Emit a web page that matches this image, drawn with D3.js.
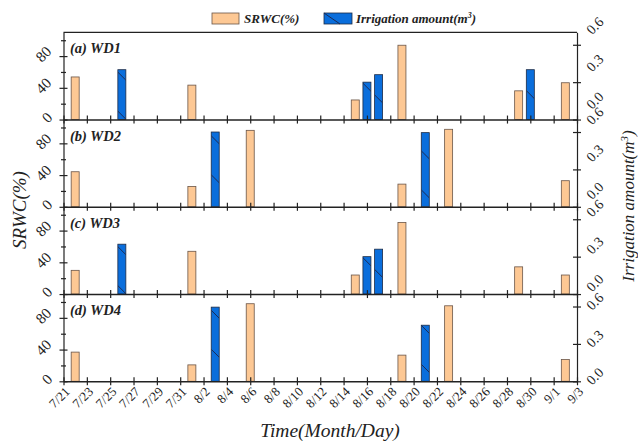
<!DOCTYPE html>
<html>
<head>
<meta charset="utf-8">
<script src="https://cdn.jsdelivr.net/npm/d3@7"></script>
<style>
  body { margin: 0; background: #fff; }
  svg text { font-family: "Liberation Serif", "Times New Roman", serif; fill: #222; }
</style>
</head>
<body>
<div id="chart"></div>
<script>
// ---- data ----
const panelNames = ["(a) WD1", "(b) WD2", "(c) WD3", "(d) WD4"];

const srwcDates = [
  ["7/22", "8/1", "8/15", "8/19", "8/29", "9/2"],
  ["7/22", "8/1", "8/6", "8/19", "8/23", "9/2"],
  ["7/22", "8/1", "8/15", "8/19", "8/29", "9/2"],
  ["7/22", "8/1", "8/6", "8/19", "8/23", "9/2"]
];
const srwcValues = [
  [53.7, 43.4, 24.7, 93.7, 36.2, 46.4],
  [44.2, 25.7, 96.4, 28.6, 97.7, 32.9],
  [29.9, 53.9, 24.0, 90.3, 34.3, 24.0],
  [36.8, 20.7, 97.8, 33.0, 95.2, 27.4]
];

const irrDates = [
  ["7/26", "8/16", "8/17", "8/30"],
  ["8/3", "8/21"],
  ["7/26", "8/16", "8/17"],
  ["8/3", "8/21"]
];
const irrValues = [
  [0.40, 0.30, 0.36, 0.40],
  [0.60, 0.595],
  [0.40, 0.30, 0.36],
  [0.595, 0.45]
];

const xTickLabels = ["7/21", "7/23", "7/25", "7/27", "7/29", "7/31", "8/2", "8/4", "8/6",
  "8/8", "8/10", "8/12", "8/14", "8/16", "8/18", "8/20", "8/22", "8/24", "8/26", "8/28",
  "8/30", "9/1", "9/3"];
const leftTicks = [0, 20, 40, 60, 80, 100];
const leftLabels = [0, 40, 80];
const rightTicks = [0, 0.3, 0.6];

// ---- layout ----
const W = 638, H = 443;
const plotL = 63.5, plotR = 577, plotT = 32.3, panelH = 87.25;
const barW = 8;
const orange = "#FDC894", blue = "#0A6EDC";

const parseDay = s => d3.utcParse("%Y/%m/%d")("2019/" + s);

const x = d3.scaleUtc()
  .domain([parseDay("7/21"), parseDay("9/3")])
  .range([plotL, plotR]);

const yL = d3.scaleLinear().domain([0, 110]).range([panelH, 0]);
const yR = d3.scaleLinear().domain([0, 0.7]).range([panelH, 0]);

const svg = d3.select("#chart").append("svg")
  .attr("width", W)
  .attr("height", H);

// hatch for irrigation bars
const defs = svg.append("defs");
const pat = defs.append("pattern")
  .attr("id", "hatch")
  .attr("patternUnits", "userSpaceOnUse")
  .attr("width", 39).attr("height", 39);
pat.append("rect").attr("width", 39).attr("height", 39).attr("fill", blue);
pat.append("line")
  .attr("x1", 0).attr("y1", 0).attr("x2", 39).attr("y2", 39)
  .attr("stroke", "#1b2a55").attr("stroke-width", 1);

// right label offsets differ slightly panel to panel in the original
const rightLabelShift = [-19, -16, -11, -5];

panelNames.forEach((name, p) => {
  const g = svg.append("g")
    .attr("transform", `translate(0,${plotT + p * panelH})`);

  // srwc bars
  g.selectAll("rect.srwc")
    .data(srwcDates[p].map((d, i) => ({date: parseDay(d), v: srwcValues[p][i]})))
    .enter().append("rect")
    .attr("class", "srwc")
    .attr("x", d => x(d.date) - barW / 2)
    .attr("y", d => yL(d.v))
    .attr("width", barW)
    .attr("height", d => panelH - yL(d.v))
    .attr("fill", orange)
    .attr("stroke", "#6a5548")
    .attr("stroke-width", 0.8);

  // irrigation bars
  g.selectAll("rect.irr")
    .data(irrDates[p].map((d, i) => ({date: parseDay(d), v: irrValues[p][i]})))
    .enter().append("rect")
    .attr("class", "irr")
    .attr("x", d => x(d.date) - barW / 2)
    .attr("y", d => yR(d.v))
    .attr("width", barW)
    .attr("height", d => panelH - yR(d.v))
    .attr("fill", "url(#hatch)")
    .attr("stroke", "#1d2b45")
    .attr("stroke-width", 0.8);

  // frame
  if (p === 0) {
    g.append("line").attr("x1", plotL).attr("x2", plotR)
      .attr("y1", 0).attr("y2", 0)
      .attr("stroke", "#222").attr("stroke-width", 1.2);
  }

  // bottom axis with crossing ticks
  const xa = g.append("g")
    .attr("transform", `translate(0,${panelH})`)
    .call(d3.axisBottom(x)
      .tickValues(xTickLabels.map(parseDay))
      .tickSize(4)
      .tickSizeOuter(0)
      .tickFormat(""));
  xa.select(".domain").attr("stroke", "#222").attr("stroke-width", 1.4);
  xa.selectAll(".tick line").attr("y1", -4).attr("y2", 4)
    .attr("stroke", "#222").attr("stroke-width", 1.2);

  // left axis
  const la = g.append("g")
    .attr("transform", `translate(${plotL},0)`)
    .call(d3.axisLeft(yL).tickValues(leftTicks).tickSizeOuter(0).tickFormat(""));
  la.select(".domain").attr("stroke", "#222").attr("stroke-width", 1.2);
  la.selectAll(".tick line")
    .attr("x1", d => leftLabels.includes(d) ? -4 : -2.5)
    .attr("x2", d => leftLabels.includes(d) ? 4 : 2.5)
    .attr("stroke", "#222").attr("stroke-width", 1.2);
  g.selectAll("text.ll")
    .data(leftLabels)
    .enter().append("text")
    .attr("class", "ll")
    .attr("transform", d => `translate(${51 - 3.8 * String(d).length},${yL(d) - 2}) rotate(-45)`)
    .attr("text-anchor", "middle")
    .attr("dominant-baseline", "central")
    .style("font-size", "15px")
    .text(d => d);

  // right axis
  const ra = g.append("g")
    .attr("transform", `translate(${plotR},0)`)
    .call(d3.axisRight(yR).tickValues(rightTicks).tickSizeOuter(0).tickFormat(""));
  ra.select(".domain").attr("stroke", "#222").attr("stroke-width", 1.2);
  ra.selectAll(".tick line").attr("x1", -4).attr("x2", 4)
    .attr("stroke", "#222").attr("stroke-width", 1.2);
  g.selectAll("text.rl")
    .data(rightTicks)
    .enter().append("text")
    .attr("class", "rl")
    .attr("transform", d => `translate(595,${yR(d) + rightLabelShift[p]}) rotate(-45)`)
    .attr("text-anchor", "middle")
    .attr("dominant-baseline", "central")
    .style("font-size", "14px")
    .text(d => d3.format(".1f")(d));

  // panel label
  g.append("text")
    .attr("x", 70).attr("y", 21)
    .style("font-size", "14.5px")
    .style("font-weight", "bold")
    .style("font-style", "italic")
    .text(name);
});

// x tick labels under the last panel
const bottomY = plotT + 4 * panelH;
svg.selectAll("text.xl")
  .data(xTickLabels)
  .enter().append("text")
  .attr("class", "xl")
  .attr("transform", d => `translate(${x(parseDay(d)) + 4},${bottomY + 8}) rotate(-45)`)
  .attr("text-anchor", "end")
  .attr("dominant-baseline", "central")
  .style("font-size", "13px")
  .text(d => d);

// axis titles
svg.append("text")
  .attr("x", 330).attr("y", 437)
  .attr("text-anchor", "middle")
  .style("font-size", "19.5px")
  .style("font-style", "italic")
  .text("Time(Month/Day)");

svg.append("text")
  .attr("transform", "translate(26,210) rotate(-90)")
  .attr("text-anchor", "middle")
  .style("font-size", "19px")
  .style("font-style", "italic")
  .text("SRWC(%)");

const rt = svg.append("text")
  .attr("transform", "translate(634,206) rotate(-90)")
  .attr("text-anchor", "middle")
  .style("font-size", "17px")
  .style("font-style", "italic");
rt.append("tspan").text("Irrigation amount(m");
rt.append("tspan").attr("dy", -6).style("font-size", "11px").text("3");
rt.append("tspan").attr("dy", 6).text(")");

// legend
const lg = svg.append("g");
lg.append("rect")
  .attr("x", 212).attr("y", 13).attr("width", 27).attr("height", 11)
  .attr("fill", orange).attr("stroke", "#6a5548").attr("stroke-width", 0.8);
lg.append("text")
  .attr("x", 244).attr("y", 23)
  .style("font-size", "13px").style("font-weight", "bold").style("font-style", "italic")
  .text("SRWC(%)");
lg.append("rect")
  .attr("x", 324).attr("y", 13).attr("width", 28).attr("height", 11)
  .attr("fill", blue).attr("stroke", "#1d2b45").attr("stroke-width", 0.8);
lg.append("line")
  .attr("x1", 324).attr("y1", 13).attr("x2", 340).attr("y2", 24)
  .attr("stroke", "#1b2a55").attr("stroke-width", 1);
const lt = lg.append("text")
  .attr("x", 356).attr("y", 23)
  .style("font-size", "13px").style("font-weight", "bold").style("font-style", "italic");
lt.append("tspan").text("Irrigation amount(m");
lt.append("tspan").attr("dy", -5).style("font-size", "8px").text("3");
lt.append("tspan").attr("dy", 5).text(")");
</script>
</body>
</html>
